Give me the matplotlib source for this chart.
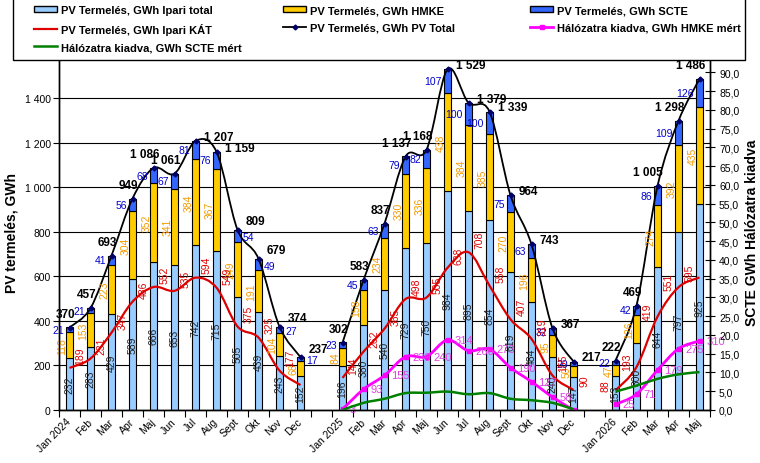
import numpy as np
import matplotlib
matplotlib.use("Agg")
import matplotlib.pyplot as plt
from matplotlib.path import Path
from matplotlib.patches import PathPatch, Rectangle, Patch
from matplotlib.lines import Line2D

plt.rcParams['font.family'] = ['Liberation Sans', 'DejaVu Sans']

# categories (empty slot between the years)
months = ['Jan 2024', 'Feb', 'Mar', 'Apr', 'Maj', 'Jun', 'Jul', 'Aug', 'Sept', 'Okt', 'Nov', 'Dec', '',
          'Jan 2025', 'Feb', 'Mar', 'Apr', 'Maj', 'Jun', 'Jul', 'Aug', 'Sept', 'Okt', 'Nov', 'Dec', '',
          'Jan 2026', 'Feb', 'Mar', 'Apr', 'Maj']

# GWh, primary axis
ipari = [232, 283, 429, 589, 666, 653, 742, 715, 505, 439, 243, 152, None,
         196, 380, 540, 729, 750, 984, 895, 854, 619, 484, 240, 147, None,
         153, 300, 644, 797, 925]
hmke = [118, 153, 223, 304, 352, 341, 384, 367, 249, 191, 104, 68, None,
        84, 158, 234, 330, 336, 438, 384, 385, 270, 196, 95, 50, None,
        47, 126, 274, 392, 435]
scte = [21, 21, 41, 56, 68, 67, 81, 76, 54, 49, 27, 17, None,
        23, 45, 63, 79, 82, 107, 100, 100, 75, 63, 32, 20, None,
        22, 42, 86, 109, 126]
pv_total = [370, 457, 693, 949, 1086, 1061, 1207, 1159, 809, 679, 374, 237, None,
            302, 583, 837, 1137, 1168, 1529, 1379, 1339, 964, 743, 367, 217, None,
            222, 469, 1005, 1298, 1486]
ipari_kat = [189, 231, 347, 486, 552, 535, 594, 549, 375, 325, 177, 112, None,
             144, 262, 365, 498, 505, 638, 708, 558, 407, 319, 155, 90, None,
             88, 193, 419, 551, 595]
hmke_mert = [None] * 13 + [3, 93, 155, 239, 240, 314, 266, 273, 190, 127, 58, 0, None,
                           25, 71, 179, 275, 310]
# GWh, secondary axis
scte_mert = [None] * 13 + [0, 1.9, 3.0, 4.5, 4.6, 4.9, 4.2, 4.5, 3.0, 2.6, 1.9, 0.2, None,
                           4.9, 6.5, 8.3, 9.5, 10.1]

c_ipari = '#99CCFF'
c_hmke = '#FFCC00'
c_scte = '#3366FF'
narrow = ['Liberation Sans Narrow', 'Liberation Sans']


def runs(vals):
    out, cur = [], []
    for i, v in enumerate(vals):
        if v is None:
            if cur:
                out.append(cur)
            cur = []
        else:
            cur.append(i)
    if cur:
        out.append(cur)
    return out


def smooth_line(axis, vals, **kw):
    # bezier through the points, like the smoothed lines of a spreadsheet
    for r in runs(vals):
        if len(r) < 2:
            continue
        P = np.array([[i, vals[i]] for i in r], float)
        E = np.vstack([P[0], P, P[-1]])
        verts = [P[0]]
        codes = [Path.MOVETO]
        for k in range(len(P) - 1):
            p0, p1, p2, p3 = E[k], E[k + 1], E[k + 2], E[k + 3]
            verts += [p1 + (p2 - p0) / 6, p2 - (p3 - p1) / 6, p2]
            codes += [Path.CURVE4] * 3
        axis.add_patch(PathPatch(Path(verts, codes), fill=False, **kw))


fig = plt.figure(figsize=(7.6, 4.64), dpi=100)
ax = fig.add_axes([59 / 760, 53 / 464, 651 / 760, 356.5 / 464])
ax2 = ax.twinx()

idx = [i for i, v in enumerate(ipari) if v is not None]
xs = np.array(idx)
ip = np.array([ipari[i] for i in idx], float)
hm = np.array([hmke[i] for i in idx], float)
sc = np.array([scte[i] for i in idx], float)
w = 0.33
ax.bar(xs, ip, w, color=c_ipari, edgecolor='black', linewidth=0.8, zorder=2)
ax.bar(xs, hm, w, bottom=ip, color=c_hmke, edgecolor='black', linewidth=0.8, zorder=2)
ax.bar(xs, sc, w, bottom=ip + hm, color=c_scte, edgecolor='black', linewidth=0.8, zorder=2)

smooth_line(ax, ipari_kat, edgecolor='#DD0000', linewidth=1.6, zorder=3)
smooth_line(ax, pv_total, edgecolor='black', linewidth=1.3, zorder=4)
smooth_line(ax, hmke_mert, edgecolor='#FF00FF', linewidth=2.0, zorder=3)
smooth_line(ax2, scte_mert, edgecolor='#008000', linewidth=1.8, zorder=3)

tx = [i for i, v in enumerate(pv_total) if v is not None]
ax.plot(tx, [pv_total[i] for i in tx], ls='none', marker='D', ms=2.5, color='#000066', zorder=5)
mx = [i for i, v in enumerate(hmke_mert) if v is not None]
ax.plot(mx, [hmke_mert[i] for i in mx], ls='none', marker='s', ms=3.5, color='#FF00FF', zorder=5)

# data labels on the bars
for i in idx:
    ax.text(i, ipari[i] / 2, str(ipari[i]), rotation=90, ha='center', va='center',
            fontsize=7.5, family=narrow, color='#222222', zorder=6)
    ax.annotate(str(hmke[i]), (i, ipari[i] + hmke[i] / 2), xytext=(-5, 0),
                textcoords='offset points', rotation=90, ha='center', va='center',
                fontsize=7.5, family=narrow, color='#F59B00', zorder=6)

for n, r in enumerate(runs(pv_total)):
    vals = [pv_total[i] for i in r]
    peak = int(np.argmax(vals))
    for k, i in enumerate(r):
        v = pv_total[i]
        # SCTE label: left of the bar, right of it on the 2024 decline
        if n == 0 and k > peak + 1:
            ax.annotate(str(scte[i]), (i, v - scte[i] / 2), xytext=(4, -1),
                        textcoords='offset points', ha='left', va='center',
                        fontsize=7.5, color='#0000CC', zorder=6)
        else:
            ax.annotate(str(scte[i]), (i, v - scte[i] / 2), xytext=(-4, 0),
                        textcoords='offset points', ha='right', va='center',
                        fontsize=7.5, color='#0000CC', zorder=6)
        last_rising = k == len(r) - 1 and v > pv_total[r[k - 1]]
        lab = f"{v:,}".replace(',', ' ')
        if k < peak or last_rising:
            ax.annotate(lab, (i, v), xytext=(4, 10), textcoords='offset points',
                        ha='right', va='center', fontsize=8.5, fontweight='bold', zorder=7)
        elif n == 0 and k > peak + 1:
            ax.annotate(lab, (i, v), xytext=(6, 6), textcoords='offset points',
                        ha='left', va='center', fontsize=8.5, fontweight='bold', zorder=7)
        else:
            ax.annotate(lab, (i, v), xytext=(6, 3), textcoords='offset points',
                        ha='left', va='center', fontsize=8.5, fontweight='bold', zorder=7)

for i, v in enumerate(ipari_kat):
    if v is None or i == 11:
        continue
    if i > 25:
        ax.annotate(str(v), (i, v), xytext=(-7, 4), textcoords='offset points', rotation=90,
                    ha='center', va='center', fontsize=7.5, family=narrow, color='#E00000', zorder=6)
    else:
        ax.annotate(str(v), (i, v), xytext=(8, 3), textcoords='offset points', rotation=90,
                    ha='center', va='bottom', fontsize=7.5, family=narrow, color='#E00000', zorder=6)

for i, v in enumerate(hmke_mert):
    if v is None or v == 0:
        continue
    ax.annotate(str(v), (i, v), xytext=(5, 0), textcoords='offset points',
                ha='left', va='center', fontsize=8, color='#E040E0', zorder=6)

# axes
ax.set_xlim(-0.5, len(months) - 0.5)
ax.set_ylim(0, 1600)
ax2.set_ylim(0, 95)
ax.set_yticks(range(0, 1601, 200))
ax.set_yticklabels([f"{v:,}".replace(',', ' ') for v in range(0, 1601, 200)], fontsize=7.5)
ax.yaxis.grid(True, color='black', linewidth=0.8)
ax.set_axisbelow(True)
ax.set_xticks(range(len(months)))
ax.set_xticklabels(months, rotation=45, ha='right', va='center', rotation_mode='anchor', fontsize=7.5)
ax.set_xticks(np.arange(-0.5, len(months), 1), minor=True)
ax.tick_params(axis='x', which='major', length=0, pad=7)
ax.tick_params(axis='x', which='minor', length=5, width=0.8, direction='out')
ax.tick_params(axis='y', length=4, width=0.8, direction='out', pad=2)
ax2.set_yticks(np.arange(0, 91, 5))
ax2.set_yticklabels([f"{v:.1f}".replace('.', ',') for v in np.arange(0, 91, 5)], fontsize=7.5)
ax2.tick_params(axis='y', length=7, width=0.8, direction='inout', pad=3)
for a in (ax, ax2):
    a.spines['top'].set_visible(False)
    for s in ('left', 'right', 'bottom'):
        a.spines[s].set_linewidth(1.0)
ax.set_ylabel('PV termelés, GWh', fontsize=10, fontweight='bold', labelpad=4)
ax2.set_ylabel('SCTE GWh Hálózatra kiadva', fontsize=10, fontweight='bold', labelpad=4)

# legend box on top of the plot area
fig.patches.append(Rectangle((13 / 760, 1 - 61 / 464), 732 / 760, 61 / 464 + 0.01,
                             transform=fig.transFigure, facecolor='white', edgecolor='black',
                             linewidth=1.0, zorder=10))
cols = [
    [(Patch(facecolor=c_ipari, edgecolor='black'), 'PV Termelés, GWh Ipari total'),
     (Line2D([], [], color='#DD0000', lw=1.6), 'PV Termelés, GWh Ipari KÁT'),
     (Line2D([], [], color='#008000', lw=1.8), 'Hálózatra kiadva, GWh SCTE mért')],
    [(Patch(facecolor=c_hmke, edgecolor='black'), 'PV Termelés, GWh HMKE'),
     (Line2D([], [], color='black', lw=1.3, marker='D', ms=2.5, mfc='#000066', mec='#000066'),
      'PV Termelés, GWh PV Total')],
    [(Patch(facecolor=c_scte, edgecolor='black'), 'PV Termelés, GWh SCTE'),
     (Line2D([], [], color='#FF00FF', lw=2.0, marker='s', ms=3.5), 'Hálózatra kiadva, GWh HMKE mért')],
]
for x0, col in zip([34, 283, 530], cols):
    lg = fig.legend([h for h, _ in col], [t for _, t in col], loc='upper left',
                    bbox_to_anchor=(x0 / 760, 1 - 6 / 464), frameon=False, borderpad=0,
                    borderaxespad=0, handlelength=2.1, handleheight=0.55, handletextpad=0.3,
                    labelspacing=0.68, prop={'size': 8, 'weight': 'bold'})
    lg.set_zorder(11)

fig.savefig('out.png', dpi=100)
